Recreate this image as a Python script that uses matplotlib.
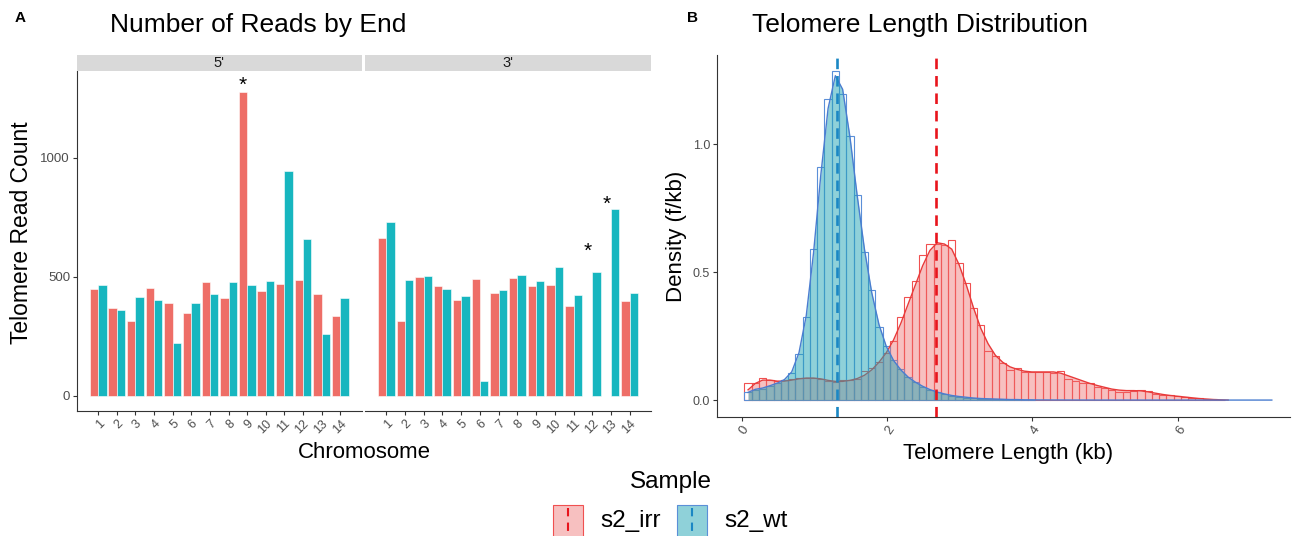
import matplotlib
matplotlib.use("Agg")
import matplotlib.pyplot as plt
import numpy as np
from matplotlib.patches import Rectangle
from matplotlib.lines import Line2D

plt.rcParams['font.family'] = ['Liberation Sans', 'DejaVu Sans']

# ---------------- data ----------------
chromosomes = [str(i) for i in range(1, 15)]
samples = ["s2_irr", "s2_wt"]

five_irr = [448, 370, 315, 454, 391, 347, 476, 410, 1277, 440, 468, 484, 428, 336]
five_wt = [463, 358, 414, 402, 220, 389, 428, 476, 463, 482, 942, 658, 259, 409]
three_irr = [664, 314, 497, 462, 400, 491, 431, 496, 459, 463, 375, 0, 0, 398]
three_wt = [728, 486, 503, 449, 420, 62, 445, 507, 480, 540, 421, 521, 783, 431]

star_5 = {"chrom": [9], "y": [1305]}
star_3 = {"chrom": [12, 13], "y": [606, 806]}

bin_start = 0.04
bin_width = 0.1
irr_hist = [0.068, 0.065, 0.087, 0.078, 0.076, 0.078, 0.082, 0.085, 0.086, 0.088,
            0.084, 0.076, 0.072, 0.079, 0.080, 0.083, 0.112, 0.126, 0.150, 0.185,
            0.231, 0.326, 0.404, 0.466, 0.567, 0.609, 0.612, 0.605, 0.626, 0.537,
            0.456, 0.359, 0.293, 0.191, 0.174, 0.145, 0.117, 0.124, 0.109, 0.111,
            0.111, 0.111, 0.104, 0.112, 0.082, 0.073, 0.067, 0.066, 0.052, 0.046,
            0.039, 0.033, 0.033, 0.036, 0.041, 0.034, 0.025, 0.021, 0.018, 0.017,
            0.011, 0.007, 0.0065, 0.005, 0.003, 0.001]
wt_hist = [0.033, 0.040, 0.042, 0.055, 0.065, 0.080, 0.106, 0.180, 0.326, 0.590,
           0.910, 1.176, 1.287, 1.197, 1.032, 0.800, 0.580, 0.430, 0.287, 0.210,
           0.156, 0.120, 0.091, 0.072, 0.053, 0.040, 0.030, 0.022, 0.017, 0.013,
           0.010, 0.008, 0.006, 0.005, 0.004, 0.003, 0.002, 0.002, 0.001, 0.001]

irr_density = [0.040, 0.065, 0.078, 0.078, 0.074, 0.074, 0.078, 0.083, 0.086, 0.086,
               0.083, 0.077, 0.073, 0.073, 0.077, 0.084, 0.097, 0.118, 0.148, 0.185,
               0.235, 0.300, 0.375, 0.450, 0.525, 0.585, 0.615, 0.610, 0.590, 0.530,
               0.450, 0.360, 0.280, 0.220, 0.175, 0.148, 0.130, 0.120, 0.113, 0.110,
               0.110, 0.110, 0.110, 0.105, 0.095, 0.085, 0.075, 0.065, 0.057, 0.050,
               0.043, 0.039, 0.037, 0.037, 0.036, 0.032, 0.027, 0.022, 0.018, 0.015,
               0.012, 0.009, 0.006, 0.004, 0.002, 0.001, 0.0]
wt_density = [0.030, 0.042, 0.047, 0.056, 0.066, 0.080, 0.110, 0.185, 0.330, 0.575,
              0.880, 1.140, 1.268, 1.215, 1.030, 0.800, 0.590, 0.420, 0.295, 0.210,
              0.155, 0.118, 0.090, 0.070, 0.054, 0.041, 0.031, 0.024, 0.018, 0.014,
              0.011, 0.008, 0.006, 0.005, 0.004, 0.003, 0.002, 0.002, 0.001, 0.001,
              0.0005, 0.0005, 0.0003, 0.0003, 0.0002, 0.0002, 0.0001, 0.0001, 0.0, 0.0,
              0.0, 0.0, 0.0, 0.0, 0.0, 0.0, 0.0, 0.0, 0.0, 0.0,
              0.0, 0.0, 0.0, 0.0, 0.0, 0.0, 0.0, 0.0, 0.0, 0.0,
              0.0, 0.0, 0.0]
irr_mean = 2.68
wt_mean = 1.31

# ---------------- style ----------------
W, H = 1293, 536
BAR_RED = '#EE6E67'
BAR_TEAL = '#17B6BF'
TICK_C = '#4D4D4D'
AX_C = '#333333'

fig = plt.figure(figsize=(W / 100, H / 100), dpi=100)


def rect(x0, y0, x1, y1):
    return [x0 / W, 1 - y1 / H, (x1 - x0) / W, (y1 - y0) / H]


def fx(x):
    return x / W


def fy(y):
    return 1 - y / H


# ---------------- panel A ----------------
panels = [("5'", five_irr, five_wt, star_5, (77, 361.5)),
          ("3'", three_irr, three_wt, star_3, (365, 651))]
pos = np.arange(1, len(chromosomes) + 1)
for i, (lab, irr, wt, stars, (xa, xb)) in enumerate(panels):
    ax = fig.add_axes(rect(xa, 71, xb, 410.7))
    ax.bar(pos - 0.225, irr, width=0.45, color=BAR_RED, edgecolor='white', linewidth=0.4)
    ax.bar(pos + 0.225, wt, width=0.45, color=BAR_TEAL, edgecolor='white', linewidth=0.4)
    for c, yv in zip(stars["chrom"], stars["y"]):
        ax.text(c - 0.225, yv, "*", ha='center', va='center', fontsize=15, color='black')
    ax.set_xlim(1 - 1.14, len(chromosomes) + 1.14)
    ax.set_ylim(-63, 1364)
    ax.set_xticks(pos)
    ax.set_xticklabels(chromosomes, rotation=45, ha='right', rotation_mode='anchor',
                       fontsize=9, color=TICK_C)
    for s in ['top', 'right']:
        ax.spines[s].set_visible(False)
    ax.spines['bottom'].set_color(AX_C)
    ax.spines['left'].set_color(AX_C)
    ax.tick_params(axis='x', length=3, color=AX_C, pad=2)
    if i == 0:
        ax.set_yticks([0, 500, 1000])
        ax.set_yticklabels(['0', '500', '1000'], fontsize=9.5, color=TICK_C)
        ax.tick_params(axis='y', length=3, color=AX_C, pad=2)
    else:
        ax.spines['left'].set_visible(False)
        ax.set_yticks([])
    # strip
    sax = fig.add_axes(rect(xa, 55, xb, 71))
    sax.set_facecolor('#D9D9D9')
    sax.set_xticks([])
    sax.set_yticks([])
    for s in sax.spines.values():
        s.set_visible(False)
    sax.text(0.5, 0.5, lab, ha='center', va='center', fontsize=10.5, color='#1A1A1A',
             transform=sax.transAxes)

fig.text(fx(22), fy(233), "Telomere Read Count", rotation=90, ha='center', va='center',
         fontsize=16.5)
fig.text(fx(364), fy(453), "Chromosome", ha='center', va='center', fontsize=16)
fig.text(fx(110), fy(25), "Number of Reads by End", ha='left', va='center', fontsize=19)
fig.text(fx(20), fy(18), "A", ha='center', va='center', fontsize=11, fontweight='bold')

# ---------------- panel B ----------------
RED_OUT = '#F05050'
BLUE_OUT = '#5B8FD8'
RED_FILL = '#EE6A6A'
BLUE_FILL = '#20A5B5'
RED_LINE = '#E83A3A'
BLUE_LINE = '#4A7DD0'

axb = fig.add_axes(rect(717, 55, 1290, 416.7))
irr_centers = bin_start + bin_width * (np.arange(len(irr_hist)) + 0.5)
wt_centers = bin_start + bin_width * (np.arange(len(wt_hist)) + 0.5)
irr_dx = bin_start + bin_width * (np.arange(len(irr_density)) + 0.5)
wt_dx = bin_start + bin_width * (np.arange(len(wt_density)) + 0.5)

axb.bar(irr_centers, irr_hist, width=bin_width, facecolor='none', edgecolor=RED_OUT,
        linewidth=0.8, zorder=2)
axb.bar(wt_centers, wt_hist, width=bin_width, facecolor='none', edgecolor=BLUE_OUT,
        linewidth=0.8, zorder=2)
axb.fill_between(irr_dx, irr_density, color=RED_FILL, alpha=0.42, linewidth=0, zorder=3)
axb.plot(irr_dx, irr_density, color=RED_LINE, linewidth=1.0, zorder=3)
axb.fill_between(wt_dx, wt_density, color=BLUE_FILL, alpha=0.5, linewidth=0, zorder=4)
axb.plot(wt_dx, wt_density, color=BLUE_LINE, linewidth=1.0, zorder=4)
axb.axvline(irr_mean, color='#E8141C', linestyle=(0, (4, 2.6)), linewidth=1.9, zorder=5)
axb.axvline(wt_mean, color='#1B87C4', linestyle=(0, (4, 2.6)), linewidth=1.9, zorder=5)

axb.set_xlim(-0.337, 7.54)
axb.set_ylim(-0.065, 1.349)
axb.set_xticks([0, 2, 4, 6])
axb.set_xticklabels(['0', '2', '4', '6'], rotation=55, ha='right', rotation_mode='anchor',
                    fontsize=9.5, color=TICK_C)
axb.set_yticks([0.0, 0.5, 1.0])
axb.set_yticklabels(['0.0', '0.5', '1.0'], fontsize=9, color=TICK_C)
axb.tick_params(axis='both', length=3, color=AX_C, pad=2)
for s in ['top', 'right']:
    axb.spines[s].set_visible(False)
axb.spines['bottom'].set_color(AX_C)
axb.spines['left'].set_color(AX_C)

fig.text(fx(677), fy(236), "Density (f/kb)", rotation=90, ha='center', va='center',
         fontsize=16)
fig.text(fx(1008), fy(453), "Telomere Length (kb)", ha='center', va='center', fontsize=16)
fig.text(fx(752), fy(25), "Telomere Length Distribution", ha='left', va='center', fontsize=19)
fig.text(fx(693), fy(18), "B", ha='center', va='center', fontsize=11, fontweight='bold')

# ---------------- legend ----------------
fig.text(fx(671), fy(482), "Sample", ha='center', va='center', fontsize=17.5)
legend_items = [(samples[0], RED_FILL, 0.42, RED_OUT, '#E8141C', 553),
                (samples[1], BLUE_FILL, 0.5, BLUE_OUT, '#1B87C4', 677)]
for name, fc, al, ec, lc, x0 in legend_items:
    fig.add_artist(Rectangle((fx(x0), fy(548)), 30 / W, 43 / H, transform=fig.transFigure,
                             facecolor=fc, alpha=al, edgecolor='none'))
    fig.add_artist(Rectangle((fx(x0), fy(548)), 30 / W, 43 / H, transform=fig.transFigure,
                             facecolor='none', edgecolor=ec, linewidth=0.8))
    fig.add_artist(Line2D([fx(x0 + 15), fx(x0 + 15)], [fy(508), fy(540)],
                          transform=fig.transFigure, color=lc, linewidth=1.5,
                          linestyle=(0, (4, 3))))
    fig.text(fx(x0 + 47), fy(521), name, ha='left', va='center', fontsize=17.5)

fig.savefig("out.png", dpi=100)
